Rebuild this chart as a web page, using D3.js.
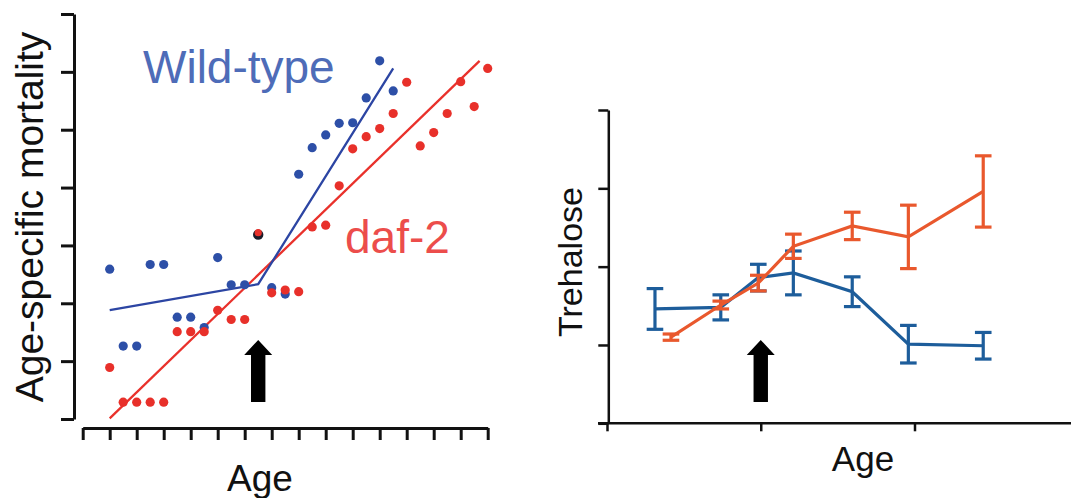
<!DOCTYPE html>
<html><head><meta charset="utf-8">
<script src="https://cdn.jsdelivr.net/npm/d3@7"></script>
<style>
body{margin:0;background:#fff;}
svg{display:block;font-family:"Liberation Sans",Arial,Helvetica,sans-serif;}
</style></head>
<body>
<svg id="chart" width="1071" height="498"></svg>
<script>
// ---------- Left panel: age-specific mortality ----------
const ageWT = [1,1.5,2,2.5,3,3.5,4,4.5,5,5.5,6,6.5,7,7.5,8,8.5,9,9.5,10,10.5,11,11.5];
const mortWT = [2.59,1.26,1.26,2.67,2.67,1.76,1.76,1.58,2.79,2.32,2.32,3.20,2.27,2.16,4.23,4.69,4.91,5.11,5.12,5.55,6.19,5.67];
const ageDaf = [1,1.5,2,2.5,3,3.5,4,4.5,5,5.5,6,6.5,7,7.5,8,8.5,9,9.5,10,10.5,11,11.5,12,12.5,13,13.5,14,14.5,15];
const mortDaf = [0.89,0.29,0.29,0.29,0.29,1.51,1.51,1.51,1.88,1.72,1.72,3.20,2.18,2.23,2.20,3.32,3.35,4.03,4.67,4.88,5.02,5.28,5.82,4.72,4.95,5.28,5.83,5.40,6.06];
const fitAgeWT = [1,6.5,11.5];
const fitWT = [1.88,2.33,6.06];
const fitAgeDaf = [1,14.7];
const fitDaf = [0.01,6.19];
const leftXTicks = [0,1,2,3,4,5,6,7,8,9,10,11,12,13,14,15];
const leftYTicks = [0,1,2,3,4,5,6,7];
const arrowAgeLeft = 6.5;

// ---------- Right panel: trehalose ----------
const ageTreWT = [3.12,7.40,9.84,12.12,15.95,19.60,24.47];
const treWT = [1.46,1.48,1.86,1.92,1.68,1.01,0.99];
const treWTErr = [0.26,0.16,0.17,0.28,0.19,0.24,0.17];
const ageTreDaf = [4.16,7.40,9.84,12.12,15.95,19.60,24.47];
const treDaf = [1.10,1.51,1.79,2.26,2.52,2.38,2.96];
const treDafErr = [0.04,0.05,0.10,0.155,0.175,0.405,0.455];
const rightXTicks = [0,10,20];
const rightYTicks = [0,1,2,3,4];
const arrowAgeRight = 10;

const svg = d3.select("#chart");

// colors
const cBlueDot = "#2d4fa7", cRedDot = "#e8302a";
const cBlueLine = "#2c45a3", cRedLine = "#e9312b";
const cBlueTxt = "#4e6cb8", cRedTxt = "#ec4d4b";
const cBlueR = "#1d5d9b", cOrangeR = "#e9582d";

// ----- Left scales
const xL = d3.scaleLinear().domain([0,15]).range([82.7,487.7]);
const yL = d3.scaleLinear().domain([0,7]).range([419,14]);

const gL = svg.append("g");
const axL = gL.append("g").attr("transform","translate(74,0)")
  .call(d3.axisLeft(yL).tickValues(leftYTicks).tickSize(13).tickSizeOuter(0).tickFormat(""));
const axB = gL.append("g").attr("transform","translate(0,428)")
  .call(d3.axisBottom(xL).tickValues(leftXTicks).tickSize(12).tickSizeOuter(0).tickFormat(""));
[axL,axB].forEach(a=>{
  a.selectAll("path,line").attr("stroke","#111").attr("stroke-width",3);
});

// fit lines
const lineL = d3.line().x(d=>xL(d[0])).y(d=>yL(d[1]));
gL.append("path").datum(fitAgeDaf.map((a,i)=>[a,fitDaf[i]]))
  .attr("d",lineL).attr("fill","none").attr("stroke",cRedLine).attr("stroke-width",2.3);
gL.append("path").datum(fitAgeWT.map((a,i)=>[a,fitWT[i]]))
  .attr("d",lineL).attr("fill","none").attr("stroke",cBlueLine).attr("stroke-width",2.3);

// dots
const wtPts = ageWT.map((a,i)=>[a,mortWT[i]]);
const dafPts = ageDaf.map((a,i)=>[a,mortDaf[i]]);
const isShared = (d, arr) => arr.some(p=>p[0]===d[0]&&p[1]===d[1]);
gL.selectAll("circle.wt").data(wtPts).join("circle").attr("class","wt")
  .attr("cx",d=>xL(d[0])).attr("cy",d=>yL(d[1])+(isShared(d,dafPts)?0.8:0))
  .attr("r",d=>isShared(d,dafPts)?5.2:4.6)
  .attr("fill",d=>isShared(d,dafPts)?"#1c1c2a":cBlueDot);
gL.selectAll("circle.daf").data(dafPts).join("circle").attr("class","daf")
  .attr("cx",d=>xL(d[0])).attr("cy",d=>yL(d[1])-(isShared(d,wtPts)?1.2:0))
  .attr("r",d=>isShared(d,wtPts)?3.6:4.6)
  .attr("fill",cRedDot);

// labels
gL.append("text").attr("x",143).attr("y",83).attr("font-size",46).attr("fill",cBlueTxt).text("Wild-type");
gL.append("text").attr("x",345).attr("y",253).attr("font-size",46).attr("fill",cRedTxt).text("daf-2");
gL.append("text").attr("transform","translate(43,217) rotate(-90)").attr("text-anchor","middle")
  .attr("font-size",39).attr("fill","#111").text("Age-specific mortality");
gL.append("text").attr("x",260).attr("y",491).attr("text-anchor","middle")
  .attr("font-size",37).attr("fill","#111").text("Age");

// arrow shape (relative to tip)
function arrowPath(cx){
  const tip=340, headB=355, bottom=402, hw=14, sw=7.2;
  return `M${cx},${tip} L${cx+hw},${headB} L${cx+sw},${headB} L${cx+sw},${bottom} L${cx-sw},${bottom} L${cx-sw},${headB} L${cx-hw},${headB} Z`;
}
gL.append("path").attr("d",arrowPath(xL(arrowAgeLeft))).attr("fill","#000");

// ----- Right scales
const xR = d3.scaleLinear().domain([0,20]).range([607,914.5]);
const yR = d3.scaleLinear().domain([0,4]).range([423.3,110]);
const gR = svg.append("g");
const axRL = gR.append("g").attr("transform","translate(608.3,0)")
  .call(d3.axisLeft(yR).tickValues(rightYTicks).tickSize(10).tickSizeOuter(0).tickFormat(""));
const axRB = gR.append("g").attr("transform",`translate(0,${yR(0)})`)
  .call(d3.axisBottom(xR).tickValues(rightXTicks).tickSize(8).tickSizeOuter(0).tickFormat(""));
axRB.select("path.domain").remove();
gR.append("line").attr("x1",598).attr("x2",1071).attr("y1",yR(0)).attr("y2",yR(0))
  .attr("stroke","#111").attr("stroke-width",2.5);
[axRL,axRB].forEach(a=>{
  a.selectAll("path,line").attr("stroke","#111").attr("stroke-width",2.5);
});

function drawSeries(ages, vals, errs, color){
  const pts = ages.map((a,i)=>({a, v:vals[i], e:errs[i]}));
  const g = gR.append("g");
  g.append("path").datum(pts)
    .attr("d", d3.line().x(d=>xR(d.a)).y(d=>yR(d.v)))
    .attr("fill","none").attr("stroke",color).attr("stroke-width",3.2);
  const eb = g.selectAll("g.eb").data(pts).join("g");
  eb.append("line").attr("x1",d=>xR(d.a)).attr("x2",d=>xR(d.a))
    .attr("y1",d=>yR(d.v-d.e)).attr("y2",d=>yR(d.v+d.e))
    .attr("stroke",color).attr("stroke-width",3.2);
  eb.append("line").attr("x1",d=>xR(d.a)-8.3).attr("x2",d=>xR(d.a)+8.3)
    .attr("y1",d=>yR(d.v+d.e)).attr("y2",d=>yR(d.v+d.e))
    .attr("stroke",color).attr("stroke-width",3.2);
  eb.append("line").attr("x1",d=>xR(d.a)-8.3).attr("x2",d=>xR(d.a)+8.3)
    .attr("y1",d=>yR(d.v-d.e)).attr("y2",d=>yR(d.v-d.e))
    .attr("stroke",color).attr("stroke-width",3.2);
}
drawSeries(ageTreWT, treWT, treWTErr, cBlueR);
drawSeries(ageTreDaf, treDaf, treDafErr, cOrangeR);

gR.append("path").attr("d",arrowPath(xR(arrowAgeRight))).attr("fill","#000");

gR.append("text").attr("transform","translate(582,262) rotate(-90)").attr("text-anchor","middle")
  .attr("font-size",34).attr("fill","#111").text("Trehalose");
gR.append("text").attr("x",863).attr("y",471).attr("text-anchor","middle")
  .attr("font-size",35).attr("fill","#111").text("Age");
</script>
</body></html>
